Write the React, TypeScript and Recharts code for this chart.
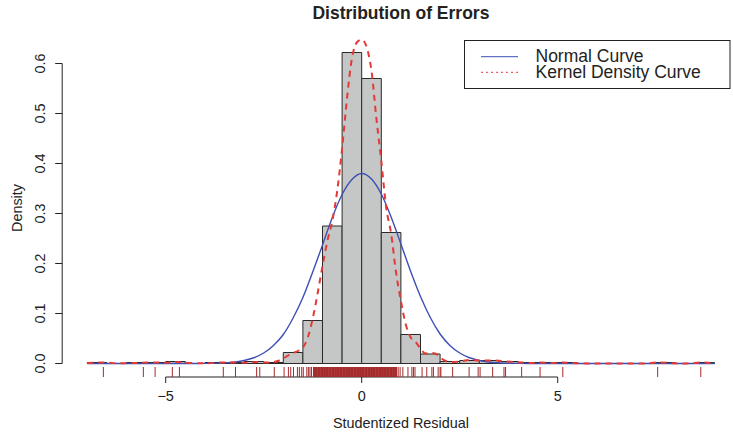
import React from 'react';
import {
  ComposedChart,
  XAxis,
  YAxis,
  Line,
  Scatter,
  ReferenceArea,
  ReferenceLine,
  Legend,
} from 'recharts';

// Histogram bins (left edge, width 0.5) and their densities
const binStarts = [
  -7, -6.5, -6, -5.5, -5, -4.5, -4, -3.5, -3, -2.5, -2, -1.5, -1, -0.5, 0, 0.5,
  1, 1.5, 2, 2.5, 3, 3.5, 4, 4.5, 5, 5.5, 6, 6.5, 7, 7.5, 8, 8.5,
];
const binDensity = [
  0.002, 0, 0.002, 0.002, 0.004, 0, 0.002, 0.002, 0.004, 0.002, 0.022, 0.086,
  0.275, 0.622, 0.57, 0.262, 0.058, 0.019, 0.004, 0.006, 0.006, 0.004, 0.002,
  0.002, 0.002, 0, 0, 0, 0, 0.002, 0, 0.002,
];
const binWidth = 0.5;

// Fitted normal curve
const normalX = [
  -7, -4.5, -4, -3.5, -3, -2.75, -2.5, -2.25, -2, -1.75, -1.5, -1.25, -1, -0.75,
  -0.5, -0.25, 0, 0.25, 0.5, 0.75, 1, 1.25, 1.5, 1.75, 2, 2.25, 2.5, 2.75, 3,
  3.5, 4, 4.5, 9,
];
const normalY = [
  0, 0, 0.0002, 0.0013, 0.006, 0.0115, 0.021, 0.036, 0.058, 0.091, 0.132,
  0.183, 0.237, 0.292, 0.338, 0.368, 0.38, 0.369, 0.339, 0.293, 0.239, 0.184,
  0.134, 0.092, 0.059, 0.036, 0.021, 0.0115, 0.006, 0.0013, 0.0002, 0, 0,
];

// Kernel density estimate
const kdeX = [
  -7, -6.6, -6.2, -5.8, -5.5, -5.25, -5, -4.75, -4.4, -4, -3.55, -3.25, -2.9,
  -2.65, -2.45, -2.25, -2.1, -2, -1.875, -1.75, -1.625, -1.5, -1.375, -1.25,
  -1.125, -1, -0.875, -0.75, -0.625, -0.5, -0.375, -0.25, -0.125, 0, 0.125,
  0.25, 0.375, 0.5, 0.625, 0.75, 0.875, 1, 1.125, 1.25, 1.375, 1.5, 1.625,
  1.75, 1.875, 2, 2.15, 2.3, 2.5, 2.75, 3, 3.3, 3.6, 3.85, 4.1, 4.35, 4.55,
  4.85, 5.13, 5.5, 6, 7.2, 7.55, 8, 8.3, 8.65, 9,
];
const kdeY = [
  0.001, 0.002, 0.0005, 0.0008, 0.002, 0.002, 0.0015, 0.003, 0.001, 0.0005,
  0.002, 0.002, 0.0015, 0.003, 0.002, 0.003, 0.006, 0.01, 0.016, 0.021, 0.025,
  0.032, 0.052, 0.09, 0.14, 0.195, 0.245, 0.285, 0.345, 0.43, 0.53, 0.61,
  0.642, 0.648, 0.633, 0.585, 0.49, 0.405, 0.312, 0.26, 0.183, 0.125, 0.078,
  0.052, 0.043, 0.03, 0.02, 0.021, 0.02, 0.012, 0.005, 0.003, 0.004, 0.007,
  0.006, 0.006, 0.005, 0.003, 0.002, 0.001, 0.002, 0.001, 0.002, 0.0003, 0, 0,
  0.002, 0.0003, 0, 0.002, 0.0005,
];

// Individual residuals shown as a rug: sparse tails
const rugTails = [
  -6.59, -5.57, -5.27, -4.83, -4.65, -3.53, -3.22, -2.68, -2.6, -2.23, -1.98,
  -1.87, -1.81, -1.74, -1.64, -1.59, -1.53, -1.49, -1.4, -1.36, -1.32, -1.28,
  0.93, 0.98, 1.05, 1.18, 1.28, 1.32, 1.36, 1.54, 1.66, 1.79, 1.83, 1.95, 2.0,
  2.02, 2.32, 2.74, 2.97, 3.02, 3.34, 3.63, 3.67, 4.08, 4.55, 5.13, 7.55, 8.65,
];
// ...and the crowded centre
const rugCentre = [
  -1.23, -1.22, -1.2, -1.19, -1.18, -1.16, -1.15, -1.14, -1.12, -1.11, -1.1,
  -1.08, -1.07, -1.06, -1.04, -1.03, -1.02, -1.0, -0.99, -0.98, -0.96, -0.95,
  -0.94, -0.92, -0.91, -0.9, -0.88, -0.87, -0.86, -0.84, -0.83, -0.82, -0.8,
  -0.79, -0.78, -0.76, -0.75, -0.74, -0.72, -0.71, -0.7, -0.68, -0.67, -0.66,
  -0.64, -0.63, -0.62, -0.6, -0.59, -0.58, -0.56, -0.55, -0.54, -0.52, -0.51,
  -0.5, -0.48, -0.47, -0.46, -0.44, -0.43, -0.42, -0.4, -0.39, -0.38, -0.36,
  -0.35, -0.34, -0.32, -0.31, -0.3, -0.28, -0.27, -0.26, -0.24, -0.23, -0.22,
  -0.2, -0.19, -0.18, -0.16, -0.15, -0.14, -0.12, -0.11, -0.1, -0.08, -0.07,
  -0.06, -0.04, -0.03, -0.02, 0.0, 0.01, 0.02, 0.04, 0.05, 0.06, 0.08, 0.09,
  0.1, 0.12, 0.13, 0.14, 0.16, 0.17, 0.18, 0.2, 0.21, 0.22, 0.24, 0.25, 0.26,
  0.28, 0.29, 0.3, 0.32, 0.33, 0.34, 0.36, 0.37, 0.38, 0.4, 0.41, 0.42, 0.44,
  0.45, 0.46, 0.48, 0.49, 0.5, 0.52, 0.53, 0.54, 0.56, 0.57, 0.58, 0.6, 0.61,
  0.62, 0.64, 0.65, 0.66, 0.68, 0.69, 0.7, 0.72, 0.73, 0.74, 0.76, 0.77, 0.78,
  0.8, 0.81, 0.82, 0.84, 0.85, 0.86, 0.88, 0.89,
];

const yTicks = [0, 0.1, 0.2, 0.3, 0.4, 0.5, 0.6];
const xTicks = [-5, 0, 5];

const X_MIN = -7.64;
const X_MAX = 9.64;
const Y_MIN = -0.027;
const Y_MAX = 0.648;

const FONT = "'Liberation Sans', Arial, Helvetica, sans-serif";
const BLUE = '#3d4fb5';
const RED = '#e53935';
const RUG = '#a52a2a';
const INK = '#222';

const normalData = normalX.map((x, i) => ({ x, y: normalY[i] }));
const kdeData = kdeX.map((x, i) => ({ x, y: kdeY[i] }));
const rugData = [...rugTails, ...rugCentre].map((x) => ({ x, y: Y_MIN }));

const fmtX = (v: number) => (v < 0 ? `\u2212${Math.abs(v)}` : `${v}`);

const YTick = (props: any) => {
  const { x, y, payload } = props;
  return (
    <text
      transform={`translate(${x - 10.5}, ${y}) rotate(-90)`}
      textAnchor="middle"
      fontSize={14.4}
      fontFamily={FONT}
      fill={INK}
    >
      {Number(payload.value).toFixed(1)}
    </text>
  );
};

const RugTick = (props: any) => {
  const { cx, cy } = props;
  if (cx == null || cy == null) return null;
  return <line x1={cx} x2={cx} y1={cy} y2={cy - 10} stroke={RUG} strokeWidth={1} />;
};

const LegendBox = () => (
  <svg width={267} height={49} style={{ display: 'block' }}>
    <rect x={0.5} y={0.5} width={265.5} height={48} fill="#fff" stroke={INK} strokeWidth={1} />
    <line x1={17} x2={54} y1={16.7} y2={16.7} stroke={BLUE} strokeWidth={1} />
    <line x1={17} x2={54} y1={32.3} y2={32.3} stroke={RED} strokeWidth={1} strokeDasharray="2 3" />
    <text x={71.5} y={22.3} fontSize={17.5} fontFamily={FONT} fill={INK}>
      Normal Curve
    </text>
    <text x={71.5} y={38.3} fontSize={17.5} fontFamily={FONT} fill={INK}>
      Kernel Density Curve
    </text>
  </svg>
);

export default function App() {
  return (
    <div
      style={{
        position: 'absolute',
        left: 0,
        top: 0,
        width: 733,
        height: 436,
        overflow: 'hidden',
        background: '#fff',
        fontFamily: FONT,
      }}
    >
      <ComposedChart
        width={745}
        height={436}
        margin={{ top: 39.5, right: 5.4, bottom: 0, left: 0 }}
      >
        <XAxis
          type="number"
          dataKey="x"
          domain={[X_MIN, X_MAX]}
          allowDataOverflow
          ticks={xTicks}
          tickFormatter={fmtX}
          axisLine={false}
          tickSize={6}
          tickMargin={8}
          tickLine={{ stroke: INK }}
          tick={{ fontSize: 14.4, fill: INK, fontFamily: FONT }}
          height={59}
        />
        <YAxis
          type="number"
          dataKey="y"
          domain={[Y_MIN, Y_MAX]}
          ticks={yTicks}
          axisLine={false}
          tickSize={7}
          tickMargin={0}
          tickLine={{ stroke: INK }}
          tick={<YTick />}
          width={62.2}
        />

        {binStarts.map((b, i) => (
          <ReferenceArea
            key={`bin-${b}`}
            x1={b}
            x2={b + binWidth}
            y1={0}
            y2={binDensity[i]}
            fill="#c5c7c6"
            fillOpacity={1}
            stroke="#2a2a2a"
            strokeWidth={1}
            ifOverflow="visible"
          />
        ))}

        <ReferenceLine
          segment={[{ x: -5, y: Y_MIN }, { x: 5, y: Y_MIN }]}
          stroke={INK}
          strokeWidth={1}
          ifOverflow="visible"
        />
        <ReferenceLine
          segment={[{ x: X_MIN, y: 0 }, { x: X_MIN, y: 0.6 }]}
          stroke={INK}
          strokeWidth={1}
          ifOverflow="visible"
        />

        <Line
          data={normalData}
          dataKey="y"
          type="monotone"
          stroke={BLUE}
          strokeWidth={1.4}
          dot={false}
          activeDot={false}
          isAnimationActive={false}
        />
        <Line
          data={kdeData}
          dataKey="y"
          type="monotone"
          stroke={RED}
          strokeWidth={2}
          strokeDasharray="6 5"
          dot={false}
          activeDot={false}
          isAnimationActive={false}
        />
        <Scatter
          data={rugData}
          dataKey="y"
          shape={<RugTick />}
          isAnimationActive={false}
        />

        <Legend
          layout="horizontal"
          verticalAlign="middle"
          align="center"
          wrapperStyle={{ left: 463.5, top: 40, width: 267, height: 49 }}
          content={() => <LegendBox />}
        />

        <text
          x={400.9}
          y={19.3}
          textAnchor="middle"
          fontSize={17.5}
          fontWeight="bold"
          fontFamily={FONT}
          fill={INK}
        >
          Distribution of Errors
        </text>
        <text
          x={400.9}
          y={428}
          textAnchor="middle"
          fontSize={14.4}
          fontFamily={FONT}
          fill={INK}
        >
          Studentized Residual
        </text>
        <text
          transform="translate(22, 208) rotate(-90)"
          textAnchor="middle"
          fontSize={14.4}
          fontFamily={FONT}
          fill={INK}
        >
          Density
        </text>
      </ComposedChart>
    </div>
  );
}
